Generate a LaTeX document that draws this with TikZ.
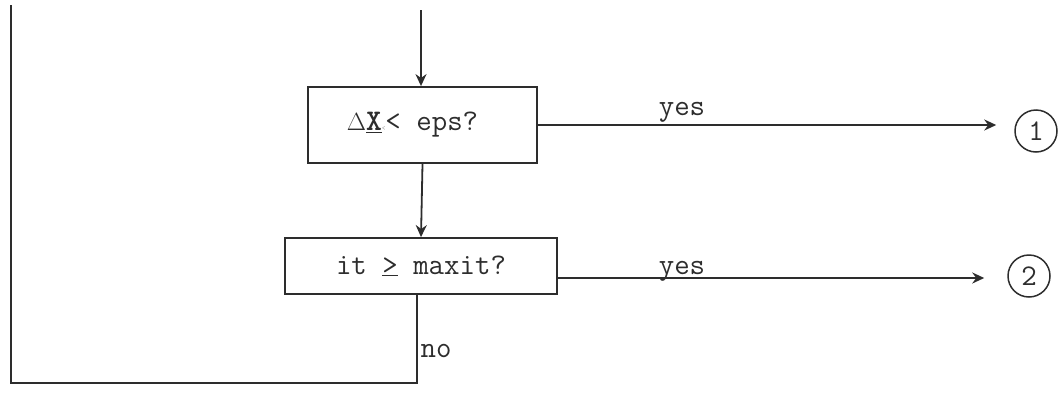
\documentclass[tikz,border=0pt]{standalone}
\usepackage{fontspec}
\usetikzlibrary{arrows.meta}

\definecolor{ink}{RGB}{45,45,45}
\tikzset{every picture/.style={line width=1.8pt}}
\tikzset{
	testbox/.style={draw=ink, text=ink, inner sep=0pt, font=\ttfamily\fontsize{30}{34}\selectfont},
	connector/.style={ink, line width=1.8pt},
	flow/.style={connector, -{Stealth[length=12pt,width=11pt]}},
	exitmark/.style={circle, draw=ink, text=ink, line width=1.5pt, minimum size=42pt, inner sep=0pt, font=\ttfamily\fontsize{30}{34}\selectfont},
	answer/.style={text=ink, inner sep=0pt, font=\ttfamily\fontsize{30}{34}\selectfont}}

\begin{document}
\begin{tikzpicture}[x=1pt,y=1pt,yscale=-1,xscale=1]
	\useasboundingbox (0,0) rectangle (1062,394);

	%Shape: Rectangle [id:test1]
	\node [testbox, minimum width=229pt, minimum height=76pt] (eps) at (422.5,125) {$\Delta$\underline{\textbf{X}}{\color{ink!45}\scriptsize<}< eps?\hspace*{20pt}};
	%Shape: Rectangle [id:test2]
	\node [testbox, minimum width=272pt, minimum height=56pt] (maxit) at (421,266) {it \underline{>} maxit?};

	%Shape: Circle [id:exit1]
	\node [exitmark] (exitA) at (1036,131) {1};
	%Shape: Circle [id:exit2]
	\node [exitmark] (exitB) at (1029,276) {2};

	% Free ends
	\coordinate (entry) at (421,10);
	\coordinate (yesB) at (557,278);
	\coordinate (loopturn) at (417,383);
	\coordinate (loopcorner) at (11,383);
	\coordinate (looptop) at (11,5);

	%Straight Lines [id:in]
	\draw [flow] (entry) -- (entry |- eps.north) ;
	%Straight Lines [id:next]
	\draw [flow] (eps.south) -- (maxit.north) ;
	%Straight Lines [id:yes1]
	\draw [flow, shorten >=18pt] (eps.east) -- (eps.east -| exitA.west) ;
	%Straight Lines [id:yes2]
	\draw [flow, shorten >=23pt] (yesB) -- (yesB -| exitB.west) ;
	%Straight Lines [id:no]
	\draw [connector] (maxit.south -| loopturn) -- (loopturn) -- (loopcorner) -- (looptop) ;

	% Text Node
	\node [answer] (yesA) at (682,112) {yes};
	% Text Node
	\node [answer] (yesb) at (682,271) {yes};
	% Text Node
	\node [answer] (noA) at (436,351) {no};

\end{tikzpicture}
\end{document}
